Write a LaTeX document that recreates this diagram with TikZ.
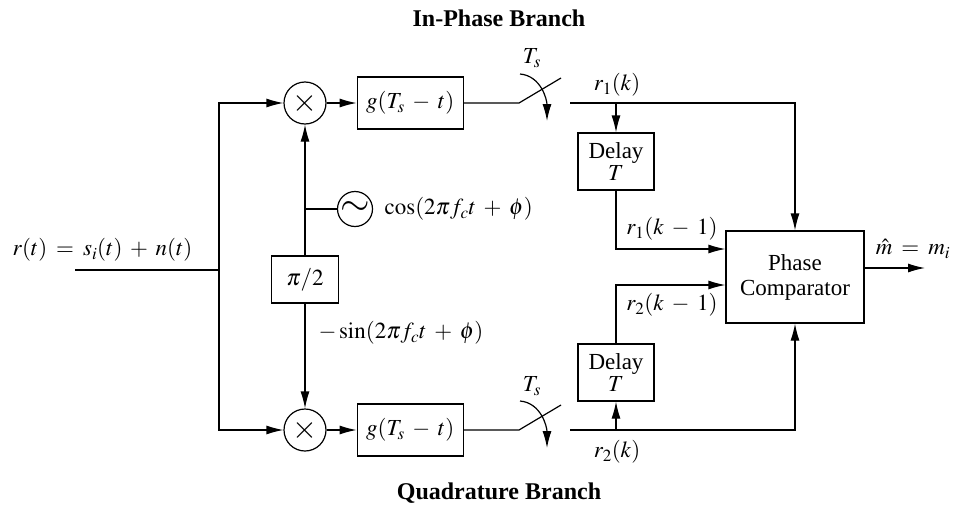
\documentclass[tikz,border=0pt]{standalone}
\usepackage{mathptmx}
\usepackage[no-math]{fontspec}
\setmainfont{Liberation Serif}
\usepackage{tikz}
\usetikzlibrary{arrows.meta,positioning}
\everymath{\thickmuskip=7mu\medmuskip=6mu}
\begin{document}
\begin{tikzpicture}[
  x=1pt,y=-1pt,
  node distance=30pt and 30pt,
  line width=1.2pt,
  every node/.style={font=\fontsize{23}{25}\selectfont},
  box/.style={draw,align=center,inner sep=0pt},
  gbox/.style={box,minimum width=106pt,minimum height=52pt},
  delaybox/.style={box,minimum width=76pt,minimum height=57pt},
  mult/.style={draw,circle,minimum size=42pt,inner sep=0pt},
  osc/.style={draw,circle,minimum size=35pt,inner sep=0pt},
  lab/.style={inner sep=0pt},
  title/.style={lab,font=\fontsize{24}{26}\selectfont\bfseries},
  arr/.style={-{Latex[length=17pt,width=9pt]}}
]
\useasboundingbox (0,0) rectangle (953,506);
\node[mult] (multI) at (305,103) {\fontsize{32}{32}\selectfont$\times$};
\node[gbox,right=of multI] (gI) {$g(T_s-t)$};
\node[mult] (multQ) at (305,430) {\fontsize{32}{32}\selectfont$\times$};
\node[gbox,right=of multQ] (gQ) {$g(T_s-t)$};
\node[osc] (osc) at (355,209) {\fontsize{38}{38}\selectfont$\sim$};
\node[box,minimum width=67pt,minimum height=47pt] (phase) at (305,279.5) {$\pi/2$};
\node[delaybox] (delayI) at (616,161.5) {Delay\\[-3pt]$T$};
\node[delaybox] (delayQ) at (616,372.5) {Delay\\[-3pt]$T$};
\node[box,minimum width=138pt,minimum height=92pt] (comp) at (795,277) {Phase\\Comparator};
% input and branches
\coordinate (in) at (75,270);
\coordinate (fork) at (219,270);
\draw (in) -- (fork);
\draw[arr] (fork) |- (multI);
\draw[arr] (fork) |- (multQ);
\draw[arr] (multI) -- (gI);
\draw[arr] (multQ) -- (gQ);
\draw[arr] (phase) -- (multI);
\draw[arr] (phase) -- (multQ);
\draw (osc) -- (osc -| multI);
% switches
\coordinate (swIa) at (519,103);
\coordinate (swIb) at (561,78);
\coordinate (swIc) at (570,103);
\coordinate (swQa) at (519,430);
\coordinate (swQb) at (561,405);
\coordinate (swQc) at (570,430);
\coordinate (outI) at (comp.north |- swIc);
\coordinate (outQ) at (comp.south |- swQc);
\draw (gI) -- (swIa) -- (swIb);
\draw (gQ) -- (swQa) -- (swQb);
\draw[arr] (520,74) to[out=-5,in=90] (547,121);
\draw[arr] (520,401) to[out=-5,in=90] (547,448);
\draw[arr] (swIc) -- (outI) -- (comp.north);
\draw[arr] (swQc) -- (outQ) -- (comp.south);
\draw[arr] (delayI.north |- swIc) -- (delayI.north);
\draw[arr] (delayQ.south |- swQc) -- (delayQ.south);
\coordinate (inA) at (comp.west |- 0,249);
\coordinate (inB) at (comp.west |- 0,285);
\coordinate (outR) at (925,268);
\draw[arr] (delayI.south) |- (inA);
\draw[arr] (delayQ.north) |- (inB);
\draw[arr] (comp.east |- outR) -- (outR);
% labels
\node[lab] (inTxt) at (102.5,250) {$r(t)=s_i(t)+n(t)$};
\node[lab,anchor=west] (cosTxt) at (384,209) {$\cos(2\pi f_ct+\phi)$};
\node[lab,anchor=west] (sinTxt) at (318,333) {$-\sin(2\pi f_ct+\phi)$};
\node[lab] (tsI) at (532,58) {$T_s$};
\node[lab] (tsQ) at (532,386) {$T_s$};
\node[lab] (rI) at (617,85) {$r_1(k)$};
\node[lab] (rQ) at (617,452) {$r_2(k)$};
\node[lab] (rIa) at (672,229) {$r_1(k-1)$};
\node[lab] (rQa) at (672,305) {$r_2(k-1)$};
\node[lab] (mTxt) at (913,249) {$\hat m=m_i$};
\node[title] (titleI) at (499,18) {In-Phase Branch};
\node[title] (titleQ) at (499,493) {Quadrature Branch};
\end{tikzpicture}
\end{document}
